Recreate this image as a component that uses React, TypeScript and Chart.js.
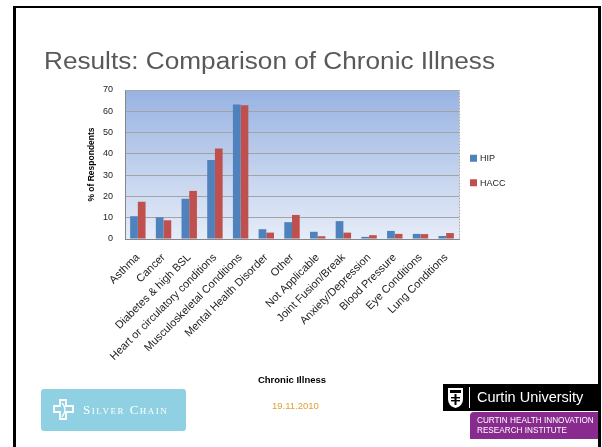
import React, { useEffect, useRef } from "react";
import { Chart, registerables } from "chart.js";

Chart.register(...registerables);

// Share of respondents reporting each chronic illness, by program
const categories = [
  "Asthma",
  "Cancer",
  "Diabetes & high BSL",
  "Heart or circulatory conditions",
  "Musculoskeletal Conditions",
  "Mental Health Disorder",
  "Other",
  "Not Applicable",
  "Joint Fusion/Break",
  "Anxiety/Depression",
  "Blood Pressure",
  "Eye Conditions",
  "Lung Conditions",
];
const hipValues = [10.7, 10.2, 18.9, 37.1, 63.2, 4.6, 7.9, 3.4, 8.4, 1.0, 3.8, 2.4, 1.4];
const haccValues = [17.5, 8.8, 22.6, 42.5, 62.8, 3.0, 11.3, 1.3, 3.0, 1.8, 2.4, 2.3, 2.8];
const seriesNames = ["HIP", "HACC"];
const seriesColors = ["#4f81bd", "#c0504d"];
const yMin = 0;
const yMax = 70;
const yStep = 10;

const SANS = "'Liberation Sans', Arial, sans-serif";

// Layout of the chart inside the 602x447 canvas
const PAD = { left: 80, right: 143, top: 90, bottom: 61.3 };
const Y_AXIS_WIDTH = 45;
const X_AXIS_HEIGHT = 146.7;

// Gradient fill behind the plot plus a dotted frame on the open sides
const plotBackground = {
  id: "plotBackground",
  beforeDraw(chart: any) {
    const { ctx, chartArea: a } = chart;
    const g = ctx.createLinearGradient(0, a.top, 0, a.bottom);
    g.addColorStop(0, "#98b3e2");
    g.addColorStop(1, "#e6ecf8");
    ctx.save();
    ctx.fillStyle = g;
    ctx.fillRect(a.left, a.top, a.right - a.left, a.bottom - a.top);
    ctx.restore();
  },
  beforeDatasetsDraw(chart: any) {
    const { ctx, chartArea: a } = chart;
    ctx.save();
    ctx.strokeStyle = "#a8a8a8";
    ctx.lineWidth = 1;
    ctx.setLineDash([2, 1]);
    ctx.beginPath();
    ctx.moveTo(Math.round(a.left) + 0.5, Math.round(a.top) + 0.5);
    ctx.lineTo(Math.round(a.right) + 0.5, Math.round(a.top) + 0.5);
    ctx.lineTo(Math.round(a.right) + 0.5, Math.round(a.bottom) + 0.5);
    ctx.stroke();
    ctx.restore();
  },
};

// Compact legend to the right of the plot
const sideLegend = {
  id: "sideLegend",
  afterDraw(chart: any) {
    const { ctx, chartArea: a } = chart;
    const box = 7;
    const step = 24.5;
    const mid = (a.top + a.bottom) / 2 + 6;
    const n = chart.data.datasets.length;
    ctx.save();
    ctx.font = `9px ${SANS}`;
    ctx.textBaseline = "middle";
    ctx.textAlign = "left";
    chart.data.datasets.forEach((ds: any, i: number) => {
      const cy = mid + (i - (n - 1) / 2) * step;
      const x = a.right + 11;
      ctx.fillStyle = ds.backgroundColor;
      ctx.fillRect(x, cy - box / 2, box, box);
      ctx.fillStyle = "#222";
      ctx.fillText(ds.label, x + 10, cy + 0.5);
    });
    ctx.restore();
  },
};

function ComparisonChart() {
  const ref = useRef<HTMLCanvasElement | null>(null);

  useEffect(() => {
    if (!ref.current) return;
    const chart = new Chart(ref.current, {
      type: "bar",
      data: {
        labels: categories,
        datasets: [
          {
            label: seriesNames[0],
            data: hipValues,
            backgroundColor: seriesColors[0],
            borderWidth: 0,
            categoryPercentage: 0.6,
            barPercentage: 1,
          },
          {
            label: seriesNames[1],
            data: haccValues,
            backgroundColor: seriesColors[1],
            borderWidth: 0,
            categoryPercentage: 0.6,
            barPercentage: 1,
          },
        ],
      },
      options: {
        responsive: false,
        animation: false,
        devicePixelRatio: 1,
        layout: { padding: PAD },
        plugins: {
          legend: { display: false },
          tooltip: { enabled: false },
        },
        scales: {
          x: {
            grid: { display: false, drawTicks: false },
            border: { display: true, color: "#868686" },
            ticks: {
              autoSkip: false,
              maxRotation: 45,
              minRotation: 45,
              padding: 12,
              color: "#222",
              font: { family: SANS, size: 11 },
            },
            title: {
              display: true,
              text: "Chronic Illness",
              color: "#000",
              padding: 0,
              font: { family: SANS, size: 9.5, weight: "bold" },
            },
            afterFit(scale: any) {
              scale.height = X_AXIS_HEIGHT;
            },
          },
          y: {
            min: yMin,
            max: yMax,
            grid: { color: "#a3a3a3", drawTicks: false },
            border: { display: true, color: "#868686" },
            ticks: {
              stepSize: yStep,
              padding: 12,
              color: "#222",
              font: { family: SANS, size: 9 },
            },
            title: {
              display: true,
              text: "% of Respondents",
              color: "#000",
              padding: { top: 6.4, bottom: 0 },
              font: { family: SANS, size: 8.5, weight: "bold" },
            },
            afterFit(scale: any) {
              scale.width = Y_AXIS_WIDTH;
            },
          },
        },
      },
      plugins: [plotBackground, sideLegend],
    });
    return () => chart.destroy();
  }, []);

  return (
    <canvas
      ref={ref}
      width={602}
      height={447}
      style={{ position: "absolute", left: 0, top: 0, width: 602, height: 447 }}
    />
  );
}

function SilverChainLogo() {
  return (
    <div
      style={{
        position: "absolute",
        left: 41,
        top: 389,
        width: 145,
        height: 42,
        background: "#8fd1e3",
        borderRadius: 3,
      }}
    >
      <svg
        width={24}
        height={24}
        viewBox="0 0 24 24"
        style={{ position: "absolute", left: 11, top: 9 }}
      >
        <path
          d="M8 2 H14 V8 H21 V14 H14 V21 H8 V14 H2 V8 H8 Z"
          fill="none"
          stroke="#fff"
          strokeWidth={1.8}
        />
        <path d="M10 5 Q16 11 10 19" fill="none" stroke="#fff" strokeWidth={1.4} />
      </svg>
      <div
        style={{
          position: "absolute",
          left: 42,
          top: 13,
          color: "#fff",
          fontFamily: "'Liberation Serif', serif",
          fontSize: 13,
          fontVariant: "small-caps",
          letterSpacing: 1.5,
          lineHeight: "16px",
          whiteSpace: "nowrap",
        }}
      >
        Silver Chain
      </div>
    </div>
  );
}

function CurtinLogo() {
  return (
    <>
      <div
        style={{
          position: "absolute",
          left: 443,
          top: 384,
          width: 155,
          height: 27,
          background: "#000",
        }}
      >
        <svg width={17} height={22} viewBox="0 0 17 22" style={{ position: "absolute", left: 4, top: 3 }}>
          <path d="M1 1 H16 V12 Q16 19 8.5 21 Q1 19 1 12 Z" fill="#fff" />
          <rect x={3} y={3} width={11} height={3} fill="#000" />
          <rect x={7.5} y={7} width={2} height={11} fill="#000" />
          <rect x={4} y={10} width={9} height={1.4} fill="#000" />
          <rect x={4} y={13} width={9} height={1.4} fill="#000" />
        </svg>
        <div
          style={{
            position: "absolute",
            left: 26,
            top: 3,
            width: 1,
            height: 21,
            background: "#fff",
          }}
        />
        <div
          style={{
            position: "absolute",
            left: 34,
            top: 4,
            color: "#fff",
            fontFamily: SANS,
            fontSize: 14.5,
            lineHeight: "18px",
            whiteSpace: "nowrap",
          }}
        >
          Curtin University
        </div>
      </div>
      <div
        style={{
          position: "absolute",
          left: 470,
          top: 412,
          width: 128,
          height: 27,
          background: "#892a8e",
          borderTopLeftRadius: 4,
        }}
      >
        <div
          style={{
            position: "absolute",
            left: 7,
            top: 4,
            color: "#fff",
            fontFamily: SANS,
            fontSize: 8.2,
            lineHeight: "10px",
            whiteSpace: "nowrap",
          }}
        >
          CURTIN HEALTH INNOVATION
          <br />
          RESEARCH INSTITUTE
        </div>
      </div>
    </>
  );
}

export default function App() {
  return (
    <div
      style={{
        position: "absolute",
        left: 0,
        top: 0,
        width: 602,
        height: 447,
        overflow: "hidden",
        background: "#fff",
      }}
    >
      <ComparisonChart />
      <div
        style={{
          position: "absolute",
          left: 13,
          top: 6,
          width: 582,
          height: 460,
          borderLeft: "3px solid #000",
          borderTop: "2px solid #000",
          borderRight: "3px solid #000",
          pointerEvents: "none",
        }}
      />
      <div
        style={{
          position: "absolute",
          left: 44,
          top: 47,
          color: "#595959",
          fontFamily: SANS,
          fontSize: 23.5,
          lineHeight: "28px",
          whiteSpace: "nowrap",
          transform: "scaleX(1.114)",
          transformOrigin: "0 0",
        }}
      >
        Results: Comparison of Chronic Illness
      </div>
      <div
        style={{
          position: "absolute",
          left: 272,
          top: 400,
          color: "#e0a030",
          fontFamily: SANS,
          fontSize: 9.5,
          lineHeight: "12px",
          whiteSpace: "nowrap",
        }}
      >
        19.11.2010
      </div>
      <SilverChainLogo />
      <CurtinLogo />
    </div>
  );
}
